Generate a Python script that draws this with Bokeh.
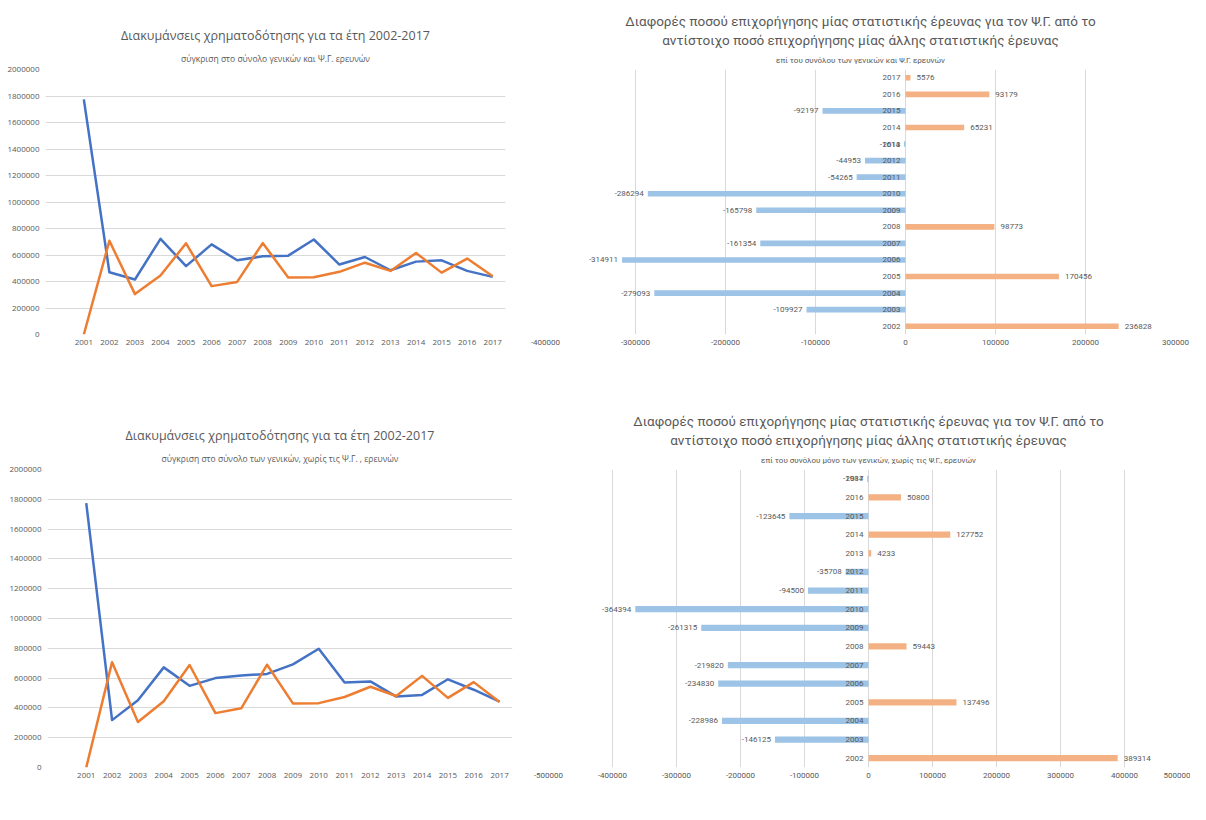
from bokeh.plotting import figure
from bokeh.models import (Range1d, FactorRange, FixedTicker, SingleIntervalTicker, Title,
                          Legend, LegendItem, ColumnDataSource, NumeralTickFormatter)
from bokeh.layouts import column, row
from bokeh.core.properties import value
from bokeh.embed import file_html
from bokeh.resources import INLINE

# ---------------- data ----------------
line_years = ["2001", "2002", "2003", "2004", "2005", "2006", "2007", "2008", "2009",
              "2010", "2011", "2012", "2013", "2014", "2015", "2016", "2017"]
blue_all = [1775000, 470000, 415000, 722000, 516000, 680000, 560000, 590000, 595000,
            717000, 528000, 585000, 485000, 550000, 560000, 480000, 435000]
orange_all = [0, 707000, 305000, 445000, 688000, 365000, 397000, 690000, 430000,
              432000, 473000, 542000, 480000, 615000, 467000, 573000, 440000]
blue_gen = [1775000, 318000, 452000, 672000, 548000, 600000, 618000, 628000, 692000,
            797000, 570000, 578000, 476000, 487000, 592000, 522000, 442000]
orange_gen = orange_all

bar_years = ["2002", "2003", "2004", "2005", "2006", "2007", "2008", "2009", "2010",
             "2011", "2012", "2013", "2014", "2015", "2016", "2017"]
diff_all = [236828, -109927, -279093, 170456, -314911, -161354, 98773, -165798, -286294,
            -54265, -44953, -1614, 65231, -92197, 93179, 5576]
diff_gen = [389314, -146125, -228986, 137496, -234830, -219820, 59443, -261315, -364394,
            -94500, -35708, 4233, 127752, -123645, 50800, -1984]

legend_blue = "Ποσό ανά έρευνα και ανά έτος διάρκειας"
legend_orange = "Ποσό ανά έρευνα Ψ.Γ. και ανά έτος"

TXT = "#595959"
GRID = "#D9D9D9"
BLUE = "#4472C4"
ORANGE = "#ED7D31"
BAR_POS = "#F4B183"
BAR_NEG = "#9DC3E6"
FONT = "Open Sans"
NARROW = "Roboto"


def no_ticks(ax):
    ax.axis_line_color = None
    ax.major_tick_line_color = None
    ax.minor_tick_line_color = None
    ax.major_tick_out = 0
    ax.major_tick_in = 0
    ax.minor_tick_out = 0
    ax.minor_tick_in = 0


def line_chart(title, subtitle, blue, orange, width, height, bl, br, bt, bb, leg_loc):
    src = ColumnDataSource(dict(x=list(range(len(line_years))), blue=blue, orange=orange))
    p = figure(width=width, height=height, output_backend="svg", toolbar_location=None,
               x_range=Range1d(-1.5, len(line_years) - 0.5), y_range=Range1d(0, 2000000),
               min_border_left=bl, min_border_right=br, min_border_top=bt, min_border_bottom=bb,
               title=title)
    p.title.align = "center"
    p.title.text_font = FONT
    p.title.text_font_style = "normal"
    p.title.text_font_size = "12.5px"
    p.title.text_color = TXT
    p.title.standoff = 2
    p.add_layout(Title(text=subtitle, align="center", text_font=FONT, text_font_style="normal",
                       text_font_size="8.5px", text_color=TXT, standoff=12), "above")
    r1 = p.line("x", "blue", source=src, line_color=BLUE, line_width=2.5, line_join="round")
    r2 = p.line("x", "orange", source=src, line_color=ORANGE, line_width=2.5, line_join="round")
    p.outline_line_color = None
    p.xgrid.visible = False
    p.ygrid.grid_line_color = GRID
    p.yaxis.ticker = SingleIntervalTicker(interval=200000)
    p.yaxis.formatter = NumeralTickFormatter(format="0")
    p.xaxis.ticker = FixedTicker(ticks=list(range(len(line_years))))
    p.xaxis.major_label_overrides = {i: y for i, y in enumerate(line_years)}
    for ax in (p.xaxis, p.yaxis):
        no_ticks(ax)
        ax.major_label_text_color = TXT
        ax.major_label_text_font = FONT
        ax.major_label_text_font_size = "8px"
    p.yaxis.major_label_standoff = 6
    p.xaxis.major_label_standoff = 5
    legend = Legend(items=[LegendItem(label=legend_blue, renderers=[r1]),
                           LegendItem(label=legend_orange, renderers=[r2])],
                    orientation="horizontal", location=leg_loc,
                    label_text_font=FONT, label_text_font_size="8.5px", label_text_color=TXT,
                    glyph_width=22, glyph_height=8, spacing=18, padding=0, margin=0,
                    border_line_color=None, background_fill_alpha=0, label_standoff=2)
    p.add_layout(legend)
    return p


def bar_chart(t1, t2, subtitle, diffs, xr, width, height, bl, br, bt, bb):
    colors = [BAR_POS if d > 0 else BAR_NEG for d in diffs]
    src = ColumnDataSource(dict(year=bar_years, d=diffs, color=colors))
    pos = ColumnDataSource(dict(year=[y for y, d in zip(bar_years, diffs) if d > 0],
                                d=[d for d in diffs if d > 0],
                                lab=[str(d) for d in diffs if d > 0]))
    neg = ColumnDataSource(dict(year=[y for y, d in zip(bar_years, diffs) if d <= 0],
                                d=[d for d in diffs if d <= 0],
                                lab=[str(d) for d in diffs if d <= 0]))
    p = figure(width=width, height=height, output_backend="svg", toolbar_location=None,
               x_range=Range1d(*xr), y_range=FactorRange(factors=bar_years),
               min_border_left=bl, min_border_right=br, min_border_top=bt, min_border_bottom=bb,
               title=t1)
    p.title.align = "center"
    p.title.text_font = NARROW
    p.title.text_font_style = "normal"
    p.title.text_font_size = "13.5px"
    p.title.text_color = TXT
    p.title.standoff = 1
    p.add_layout(Title(text=subtitle, align="center", text_font=NARROW, text_font_style="normal",
                       text_font_size="8px", text_color=TXT, standoff=10), "above")
    p.add_layout(Title(text=t2, align="center", text_font=NARROW, text_font_style="normal",
                       text_font_size="13.5px", text_color=TXT, standoff=1), "above")
    p.hbar(y="year", left=0, right="d", height=0.34, fill_color="color", line_color=None,
           source=src)
    p.text(x=0, y="year", text="year", source=src, x_offset=-5, text_align="right",
           text_baseline="middle", text_font=value(NARROW), text_font_size="8px",
           text_color=TXT)
    p.text(x="d", y="year", text="lab", source=pos, x_offset=6, text_align="left",
           text_baseline="middle", text_font=value(NARROW), text_font_size="8px",
           text_color=TXT)
    p.text(x="d", y="year", text="lab", source=neg, x_offset=-4, text_align="right",
           text_baseline="middle", text_font=value(NARROW), text_font_size="8px",
           text_color=TXT)
    p.outline_line_color = None
    p.ygrid.visible = False
    p.yaxis.visible = False
    p.xgrid.grid_line_color = GRID
    p.xaxis.ticker = SingleIntervalTicker(interval=100000)
    p.xgrid.ticker = SingleIntervalTicker(interval=100000)
    p.xaxis.formatter = NumeralTickFormatter(format="0")
    no_ticks(p.xaxis)
    p.xaxis.major_label_text_color = TXT
    p.xaxis.major_label_text_font = NARROW
    p.xaxis.major_label_text_font_size = "8px"
    p.xaxis.major_label_standoff = 5
    return p


p1 = line_chart("Διακυμάνσεις χρηματοδότησης για τα έτη 2002-2017",
                "σύγκριση στο σύνολο γενικών και Ψ.Γ. ερευνών",
                blue_all, orange_all, 525, 397, 45, 20, 54, 63, (42, -37))
p2 = bar_chart("Διαφορές ποσού επιχορήγησης μίας στατιστικής έρευνας για τον Ψ.Γ. από το",
               "αντίστοιχο ποσό επιχορήγησης μίας άλλης στατιστικής έρευνας",
               "επί του συνόλου των γενικών και Ψ.Γ. ερευνών",
               diff_all, (-400000, 300000), 665, 397, 20, 15, 69, 37)
p3 = line_chart("Διακυμάνσεις χρηματοδότησης για τα έτη 2002-2017",
                "σύγκριση στο σύνολο των γενικών, χωρίς τις Ψ.Γ. , ερευνών",
                blue_gen, orange_gen, 529, 406, 47, 17, 53, 36, (40, -34))
p4 = bar_chart("Διαφορές ποσού επιχορήγησης μίας στατιστικής έρευνας για τον Ψ.Γ. από το",
               "αντίστοιχο ποσό επιχορήγησης μίας άλλης στατιστικής έρευνας",
               "επί του συνόλου μόνο των γενικών, χωρίς τις Ψ.Γ., ερευνών",
               diff_gen, (-500000, 500000), 661, 406, 19, 2, 72, 20)

layout = column(row(p1, p2), row(p3, p4))

open("out.html", "w").write(file_html(layout, INLINE))
